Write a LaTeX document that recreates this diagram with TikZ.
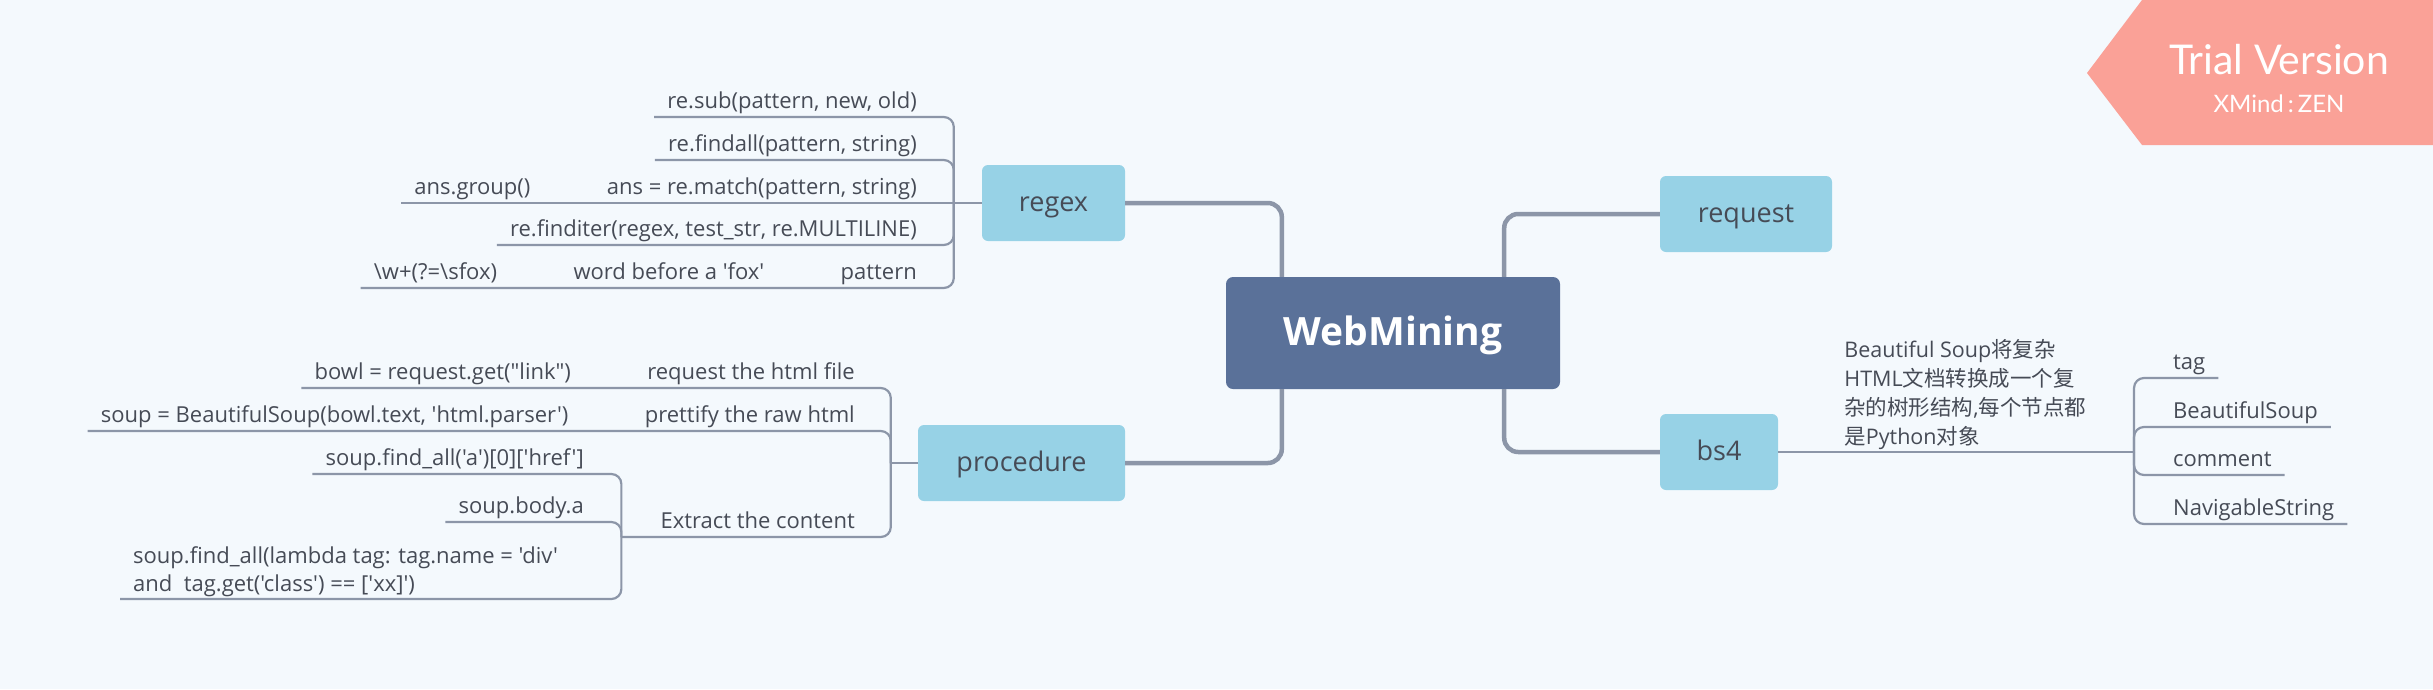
\documentclass[tikz,border=0pt]{standalone}
\usepackage{fontspec}
\setmainfont{Open Sans}[Ligatures=TeXOff]
\newfontfamily\cjk{Noto Sans CJK SC}
\newfontfamily\trialfont{Lato}
\usetikzlibrary{positioning}
\definecolor{bgc}{HTML}{F4F9FD}
\definecolor{boxc}{HTML}{97D2E6}
\definecolor{rootc}{HTML}{5A7199}
\definecolor{linec}{HTML}{8C96A8}
\definecolor{txtc}{HTML}{464B56}
\definecolor{trialc}{HTML}{FAA197}

\begin{document}
\begin{tikzpicture}[
    x = 1pt, y = -1pt,
    node distance = 50pt,
    root/.style = {rectangle, rounded corners=7pt, fill=rootc, text=white, minimum width=334pt, minimum height=112pt, text height=30pt, text depth=4.8pt, font=\fontsize{39}{47}\selectfont\bfseries},
    topic/.style = {rectangle, rounded corners=6pt, fill=boxc, text=txtc, minimum height=76pt, text height=20pt, text depth=3.6pt, font=\fontsize{27}{32}\selectfont},
    leaf/.style = {inner xsep=13pt, inner ysep=3pt, text height=16pt, text depth=5pt, text=txtc, font=\fontsize{22}{26}\selectfont},
    multi/.style = {inner xsep=13pt, inner ysep=2pt, align=left, text=txtc},
    ast/.style = {draw=linec, line width=2.2pt, rounded corners=10pt},
    trunk/.style = {draw=linec, line width=4.5pt, rounded corners=14pt},
    trial/.style = {text=white, font=\trialfont}
    ]

  \fill[bgc] (0,0) rectangle (2433,689);

  % watermark
  \fill[trialc] (2087,73) -- (2142,0) -- (2433,0) -- (2433,145) -- (2142,145) -- cycle;
  \node[trial, font=\trialfont\fontsize{41}{44}\selectfont] (trialv) at (2279,60) {Trial Version};
  \node[trial, font=\trialfont\fontsize{24}{28}\selectfont] (zen) at (2279,104) {XMind\,:\,ZEN};

  \node[root] (root) at (1393,333) {WebMining};
  \node[topic, minimum width=143pt] (rgx) at (1053.5,203) {regex};
  \node[topic, minimum width=207pt] (proc) at (1021.5,463) {procedure};
  \node[topic, minimum width=172pt] (req) at (1746,214) {request};
  \node[topic, minimum width=118pt] (bs) at (1719,452) {bs4};

  % regex
  \node[leaf, anchor=south east] (rsub) at (930,117) {re.sub(pattern, new, old)};
  \node[leaf, anchor=south east] (rfind) at (930,160) {re.findall(pattern, string)};
  \node[leaf, anchor=south east] (rmatch) at (930,203) {ans = re.match(pattern, string)};
  \node[leaf] (ansgrp) [left=of rmatch] {ans.group()};
  \node[leaf, anchor=south east] (riter) at (930,245) {re.finditer(regex, test\_str, re.MULTILINE)};
  \node[leaf, anchor=south east] (rpat) at (930,288) {pattern};
  \node[leaf] (rword) [left=of rpat] {word before a 'fox'};
  \node[leaf] (rw) [left=of rword] {\textbackslash w+(?=\textbackslash sfox)};
  \coordinate (rbr) at ([xshift=-28pt]rgx.west);

  % procedure
  \node[leaf, anchor=south east] (preq) at (868,388) {request the html file};
  \node[leaf] (bowl) [left=of preq] {bowl = request.get("link")};
  \node[leaf, anchor=south east] (pprt) at (868,431) {prettify the raw html};
  \node[leaf] (soup) [left=of pprt] {soup = BeautifulSoup(bowl.text, 'html.parser')};
  \node[leaf, anchor=south east] (pext) at (868,537) {Extract the content};
  \coordinate (pbr) at ([xshift=-27pt]proc.west);
  \coordinate (ebr) at ([xshift=-26pt]pext.south west);
  \node[leaf, anchor=south east] (fhref) at (597,474) {soup.find\_all('a')[0]['href']};
  \node[leaf, anchor=south east] (fbody) at (597,522) {soup.body.a};
  \node[multi, anchor=south west, font=\fontsize{22}{28}\selectfont] (flam) at (120,599) {soup.find\_all(lambda tag: tag.name = 'div'\\and \ tag.get('class') == ['xx]')};

  % bs4
  \node[multi, anchor=south west, font=\fontsize{21.5}{29}\selectfont] (bsd) at ([xshift=53pt]bs.east) {Beautiful Soup{\cjk 将复杂}\\HTML{\cjk 文档转换成一个复}\\{\cjk 杂的树形结构},{\cjk 每个节点都}\\{\cjk 是}Python{\cjk 对象}};
  \coordinate (bbr) at (2134,452);
  \node[leaf, anchor=south west] (btag) at (2160,378) {tag};
  \node[leaf, anchor=south west] (bsoup) at (2160,427) {BeautifulSoup};
  \node[leaf, anchor=south west] (bcom) at (2160,475) {comment};
  \node[leaf, anchor=south west] (bnav) at (2160,524) {NavigableString};

  \draw[trunk] ([xshift=56pt]root.north west) |- (rgx.east);
  \draw[trunk] ([xshift=56pt]root.south west) |- (proc.east);
  \draw[trunk] ([xshift=-56pt]root.north east) |- (req.west);
  \draw[trunk] ([xshift=-56pt]root.south east) |- (bs.west);

  \draw[ast] (rbr) |- (rsub.south east) -- (rsub.south west);
  \draw[ast] (rbr) |- (rfind.south east) -- (rfind.south west);
  \draw[ast] (rgx.west) -- (rmatch.south east) -- (rmatch.south west) -- (ansgrp.south east) -- (ansgrp.south west);
  \draw[ast] (rbr) |- (riter.south east) -- (riter.south west);
  \draw[ast] (rbr) |- (rpat.south east) -- (rpat.south west) -- (rword.south east) -- (rword.south west) -- (rw.south east) -- (rw.south west);

  \draw[ast] (proc.west) -- (pbr);
  \draw[ast] (pbr) |- (preq.south east) -- (preq.south west) -- (bowl.south east) -- (bowl.south west);
  \draw[ast] (pbr) |- (pprt.south east) -- (pprt.south west) -- (soup.south east) -- (soup.south west);
  \draw[ast] (pbr) |- (pext.south east) -- (pext.south west) -- (ebr);
  \draw[ast] (ebr) |- (fhref.south east) -- (fhref.south west);
  \draw[ast] (ebr) |- (fbody.south east) -- (fbody.south west);
  \draw[ast] (ebr) |- (flam.south east) -- (flam.south west);

  \draw[ast] (bs.east) -- (bsd.south west) -- (bsd.south east) -- (bbr);
  \draw[ast] (bbr) |- (btag.south west) -- (btag.south east);
  \draw[ast] (bbr) |- (bsoup.south west) -- (bsoup.south east);
  \draw[ast] (bbr) |- (bcom.south west) -- (bcom.south east);
  \draw[ast] (bbr) |- (bnav.south west) -- (bnav.south east);
\end{tikzpicture}
\end{document}
